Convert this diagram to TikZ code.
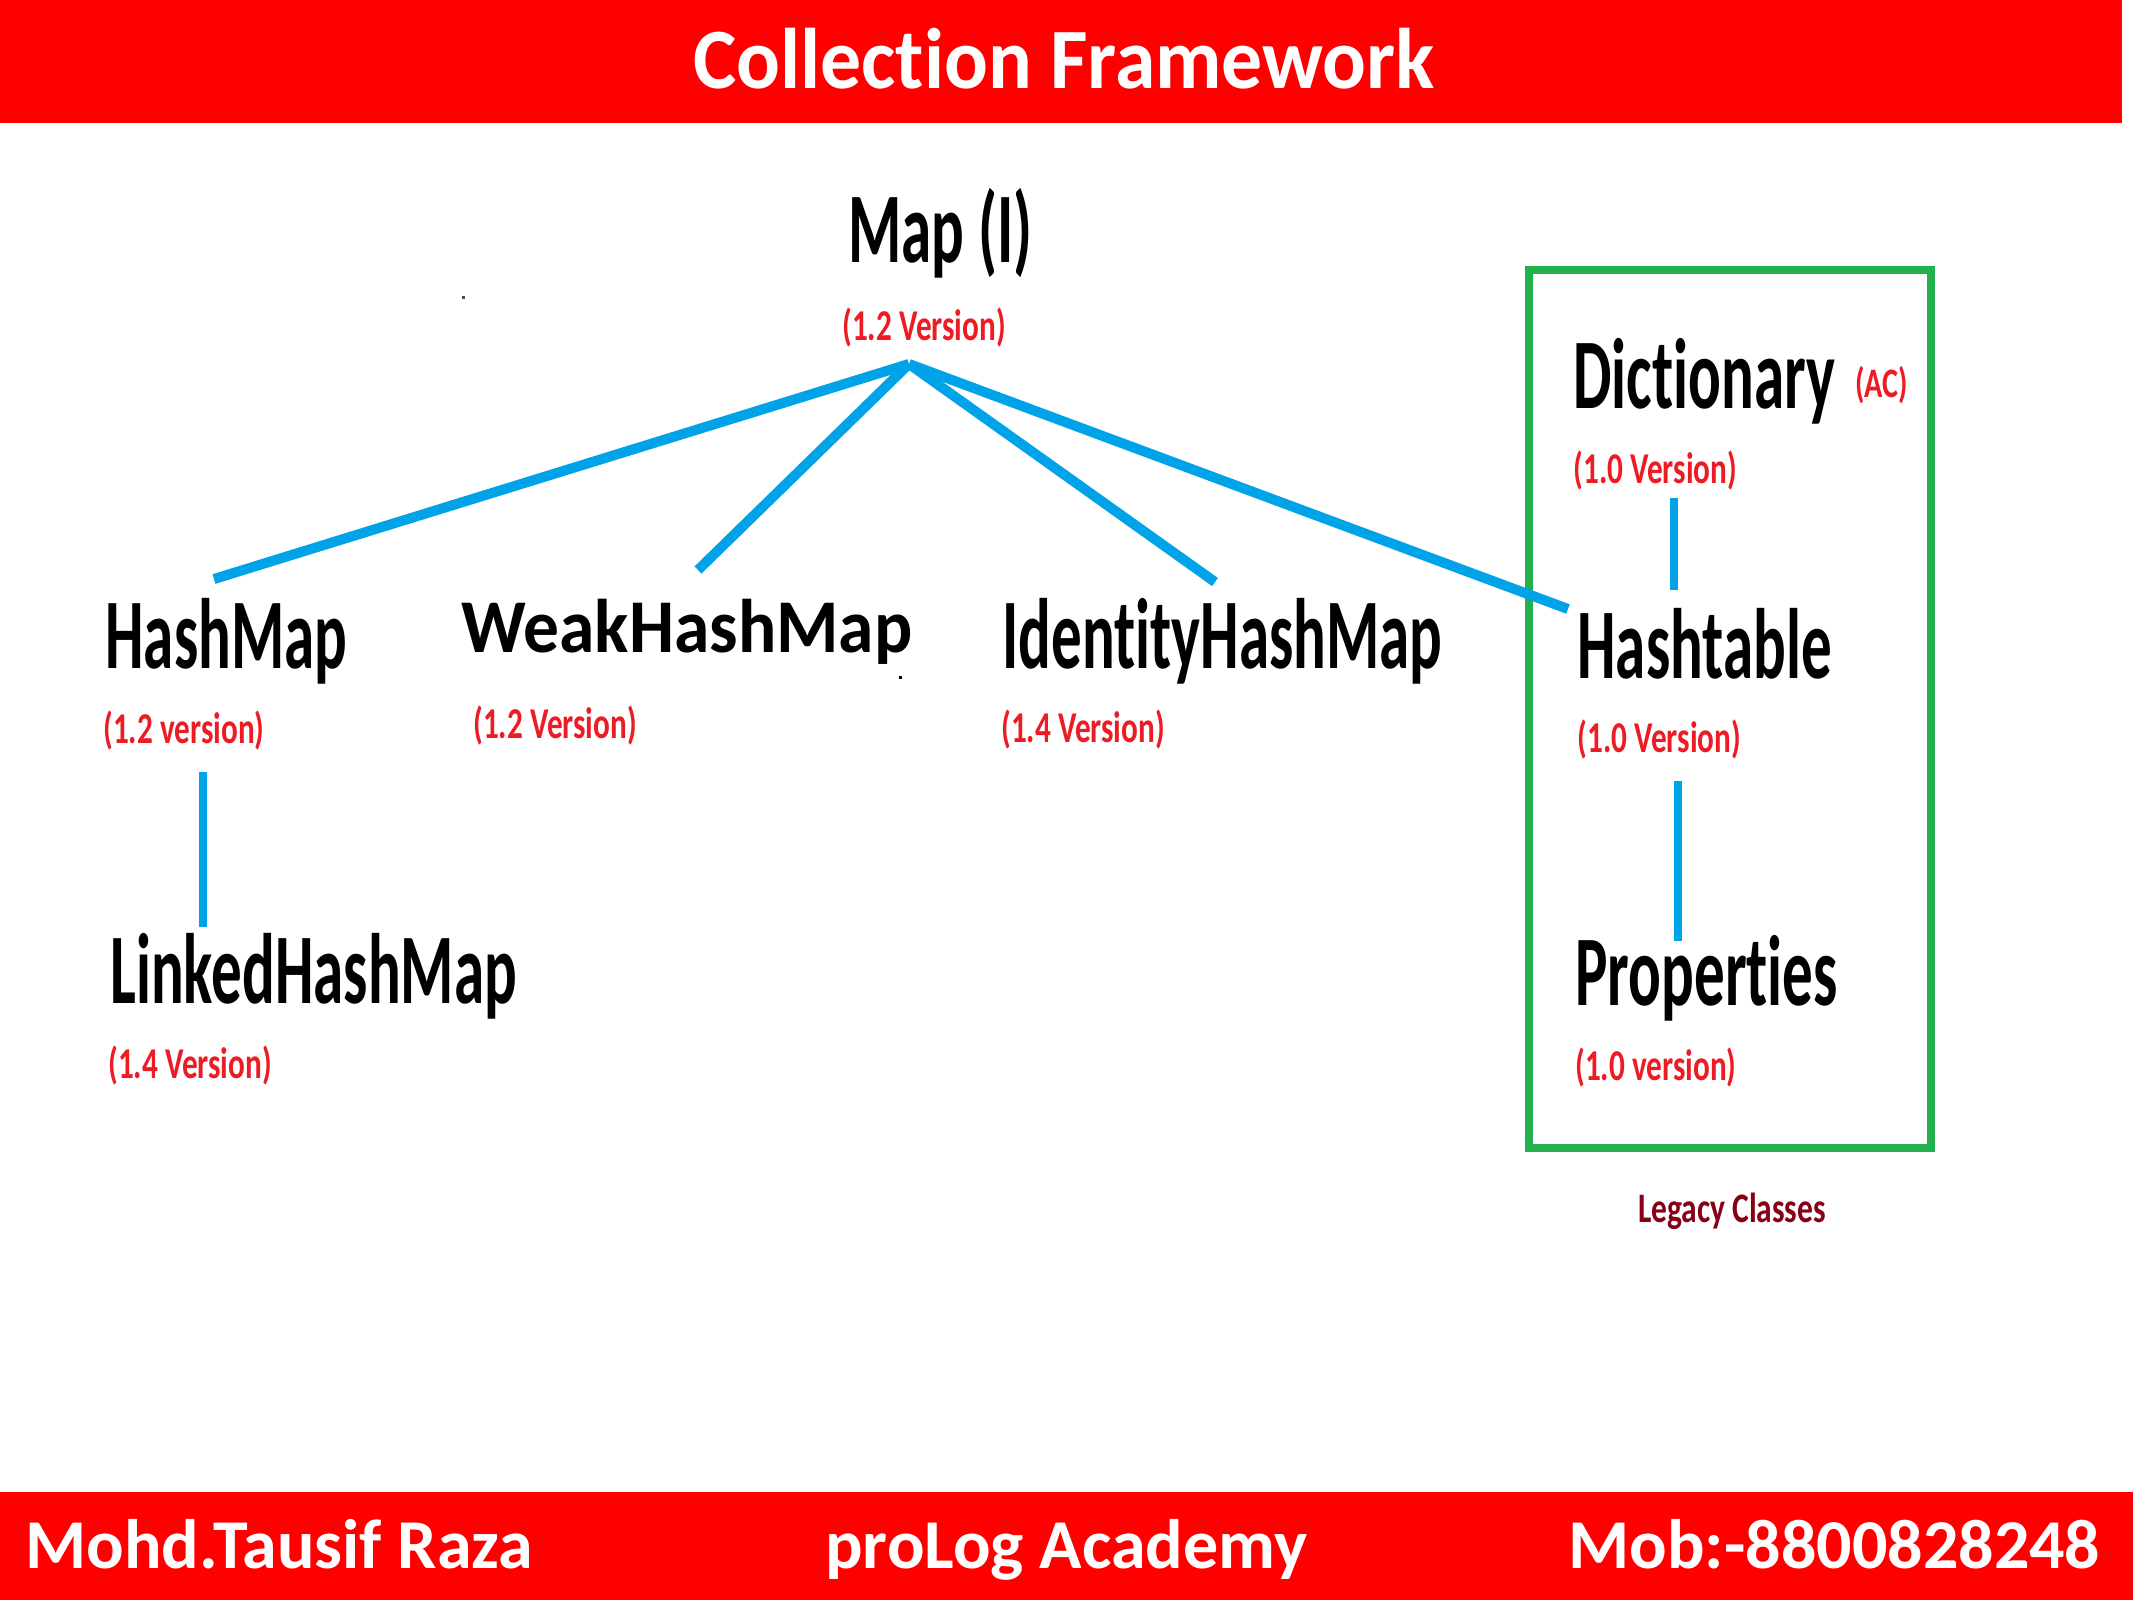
\documentclass[tikz,border=0pt]{standalone}
\usepackage{fontspec}
\usepackage{graphicx}
\setmainfont[Ligatures=NoCommon]{Carlito}
\newfontfamily\clsfont[FakeStretch=0.61,Ligatures=NoCommon]{Carlito}
\newfontfamily\verfont[FakeStretch=0.71,Ligatures=NoCommon]{Carlito}
\newfontfamily\acfont[FakeStretch=0.72,Ligatures=NoCommon]{Carlito}
\newfontfamily\legfont[FakeStretch=0.75,Ligatures=NoCommon]{Carlito}
\newfontfamily\ttlfont[FakeStretch=0.95,Ligatures=NoCommon]{Carlito}
\newfontfamily\wfont[FakeStretch=0.94,Ligatures=NoCommon]{Carlito}
\definecolor{hdrred}{HTML}{FF0000}
\definecolor{verred}{HTML}{ED1C24}
\definecolor{lineblue}{HTML}{00A2E8}
\definecolor{boxgreen}{HTML}{22B14C}
\definecolor{legred}{HTML}{880015}
\tikzset{
  cls/.style={anchor=base west, inner sep=0pt, font=\clsfont\bfseries\fontsize{50}{60}\selectfont},
  wide/.style={anchor=base west, inner sep=0pt, font=\wfont\bfseries\fontsize{38}{46}\selectfont},
  ver/.style={anchor=base west, inner sep=0pt, text=verred, font=\verfont\bfseries\fontsize{22}{26}\selectfont},
  acnote/.style={anchor=base west, inner sep=0pt, text=verred, font=\acfont\bfseries\fontsize{21}{25}\selectfont},
  band/.style={inner sep=0pt, text=white, font=\bfseries\fontsize{35}{42}\selectfont},
  link/.style={draw=lineblue, line width=5pt},
  vlink/.style={draw=lineblue, line width=4pt},
}
\begin{document}
\begin{tikzpicture}[x=0.5pt,y=-0.5pt]
\useasboundingbox (0,0) rectangle (2138,1600);
\fill[white] (0,0) rectangle (2138,1600);
% header and footer bands
\fill[hdrred] (0,0) rectangle (2122,123);
\fill[hdrred] (0,1492) rectangle (2133,1600);
\node[band, anchor=base, font=\ttlfont\bfseries\fontsize{43}{50}\selectfont] (title) at (1064,89) {Collection Framework};
\node[band, anchor=base west] (author) at (25,1568) {Mohd.Tausif Raza};
\node[band, anchor=base west] (academy) at (825,1568) {proLog Academy};
\node[band, anchor=base west] (mobile) at (1568,1568) {Mob:-8800828248};

% legacy box
\draw[boxgreen, line width=4pt] (1529,270) rectangle (1931,1148);
\node[anchor=base, inner sep=0pt, text=legred, font=\legfont\bfseries\fontsize{21}{25}\selectfont] (legacy) at (1732,1222) {Legacy Classes};

% class nodes
\node[cls] (map) at (848,263) {Map (I)};
\node[ver] (mapv) at (842,340) {(1.2 Version)};
\node[cls] (hm) at (105,668) {HashMap};
\node[ver] (hmv) at (103,743) {(1.2 version)};
\node[wide] (whm) at (461,652) {WeakHashMap};
\node[ver] (whmv) at (473,738) {(1.2 Version)};
\node[cls] (ihm) at (1002,668) {IdentityHashMap};
\node[ver] (ihmv) at (1001,742) {(1.4 Version)};
\node[cls] (lhm) at (110,1003) {LinkedHashMap};
\node[ver] (lhmv) at (108,1078) {(1.4 Version)};
\node[cls] (dict) at (1573,408) {Dictionary};
\node[acnote] (ac) at (1855,397) {(AC)};
\node[ver] (dictv) at (1573,483) {(1.0 Version)};
\node[cls] (ht) at (1577,678) {Hashtable};
\node[ver] (htv) at (1577,752) {(1.0 Version)};
\node[cls] (prop) at (1575,1005) {Properties};
\node[ver] (propv) at (1575,1080) {(1.0 version)};

% connector end points
\coordinate (apex) at (909,364);
\coordinate (hmtop) at (214,579);
\coordinate (whmtop) at (698,570);
\coordinate (ihmtop) at (1215,582);
\coordinate (httop) at (1568,609);
\coordinate (dictbot) at (1674,498);
\coordinate (htdictend) at (1674,590);
\coordinate (htbot) at (1678,781);
\coordinate (proptop) at (1678,941);
\coordinate (hmbot) at (203,772);
\coordinate (lhmtop) at (203,927);

\draw[link] (apex) -- (hmtop);
\draw[link] (apex) -- (whmtop);
\draw[link] (apex) -- (ihmtop);
\draw[link] (apex) -- (httop);
\draw[vlink] (dictbot) -- (htdictend);
\draw[vlink] (htbot) -- (proptop);
\draw[vlink] (hmbot) -- (lhmtop);

% stray specks
\fill[black!70] (462,296) rectangle (465,299);
\fill[black] (899,676) rectangle (902,679);
\end{tikzpicture}
\end{document}
